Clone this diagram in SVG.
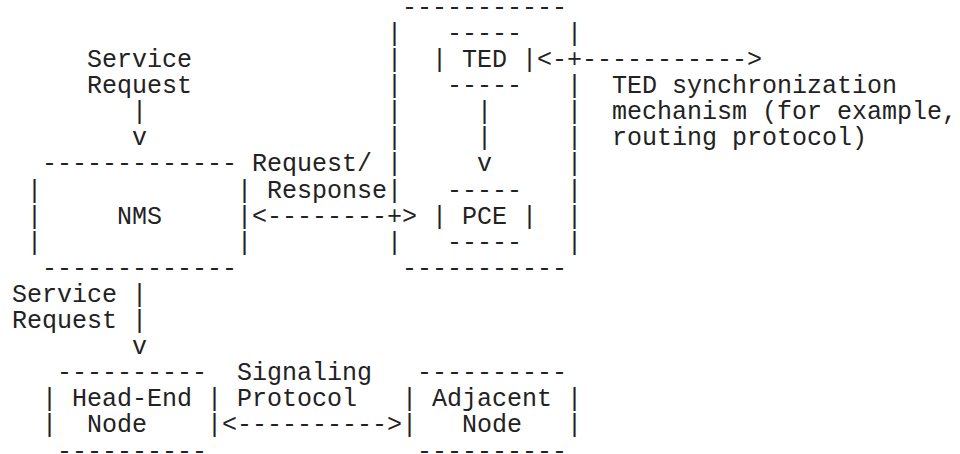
<svg xmlns="http://www.w3.org/2000/svg" width="960" height="454" viewBox="0 0 960 454">
<style>
  text { font-family: "Liberation Mono", "DejaVu Sans Mono", monospace; font-size: 25px; fill: #222; }
</style>
<rect width="960" height="454" fill="#fff"/>

<!-- PCE-side container box -->
<g id="pce-server">
  <text x="402" y="14.8">-----------</text>
  <text x="387" y="40.9">|</text><text x="567" y="40.9">|</text>
  <text x="387" y="67.0">|</text>
  <text x="387" y="93.1">|</text><text x="567" y="93.1">|</text>
  <text x="387" y="119.2">|</text><text x="567" y="119.2">|</text>
  <text x="387" y="145.3">|</text><text x="567" y="145.3">|</text>
  <text x="387" y="171.4">|</text><text x="567" y="171.4">|</text>
  <text x="387" y="197.5">|</text><text x="567" y="197.5">|</text>
  <text x="567" y="223.6">|</text>
  <text x="387" y="249.7">|</text><text x="567" y="249.7">|</text>
  <text x="402" y="275.8">-----------</text>
</g>

<g id="ted">
  <text x="447" y="40.9">-----</text>
  <text x="432" y="67.0">|</text><text x="462" y="67.0">TED</text><text x="522" y="67.0">|</text>
  <text x="447" y="93.1">-----</text>
</g>

<g id="pce">
  <text x="447" y="197.5">-----</text>
  <text x="432" y="223.6">|</text><text x="462" y="223.6">PCE</text><text x="522" y="223.6">|</text>
  <text x="447" y="249.7">-----</text>
</g>

<g id="nms">
  <text x="42" y="171.4">-------------</text>
  <text x="27" y="197.5">|</text><text x="237" y="197.5">|</text>
  <text x="27" y="223.6">|</text><text x="117" y="223.6">NMS</text><text x="237" y="223.6">|</text>
  <text x="27" y="249.7">|</text><text x="237" y="249.7">|</text>
  <text x="42" y="275.8">-------------</text>
</g>

<g id="head-end-node">
  <text x="57" y="380.2">----------</text>
  <text x="42" y="406.3">|</text><text x="72" y="406.3">Head-End</text><text x="207" y="406.3">|</text>
  <text x="42" y="432.4">|</text><text x="87" y="432.4">Node</text><text x="207" y="432.4">|</text>
  <text x="57" y="458.5">----------</text>
</g>

<g id="adjacent-node">
  <text x="417" y="380.2">----------</text>
  <text x="402" y="406.3">|</text><text x="432" y="406.3">Adjacent</text><text x="567" y="406.3">|</text>
  <text x="402" y="432.4">|</text><text x="462" y="432.4">Node</text><text x="567" y="432.4">|</text>
  <text x="417" y="458.5">----------</text>
</g>

<g id="connectors">
  <!-- Service request into NMS -->
  <g id="service-request-nms">
    <text x="87" y="67.0">Service</text>
    <text x="87" y="93.1">Request</text>
    <text x="132" y="119.2">|</text>
    <text x="132" y="145.3">v</text>
  </g>
  <!-- TED sync -->
  <g id="ted-sync">
    <text x="537" y="67.0">&lt;-+-----------&gt;</text>
    <text x="612" y="93.1">TED synchronization</text>
    <text x="612" y="119.2">mechanism (for example,</text>
    <text x="612" y="145.3">routing protocol)</text>
  </g>
  <!-- TED to PCE -->
  <g id="ted-to-pce">
    <text x="477" y="119.2">|</text>
    <text x="477" y="145.3">|</text>
    <text x="477" y="171.4">v</text>
  </g>
  <!-- NMS <-> PCE -->
  <g id="nms-pce">
    <text x="252" y="171.4">Request/</text>
    <text x="267" y="197.5">Response</text>
    <text x="252" y="223.6">&lt;--------+&gt;</text>
  </g>
  <!-- Service request into Head-End -->
  <g id="service-request-headend">
    <text x="12" y="301.9">Service</text><text x="132" y="301.9">|</text>
    <text x="12" y="328.0">Request</text><text x="132" y="328.0">|</text>
    <text x="132" y="354.1">v</text>
  </g>
  <!-- Signaling protocol -->
  <g id="signaling">
    <text x="237" y="380.2">Signaling</text>
    <text x="237" y="406.3">Protocol</text>
    <text x="222" y="432.4">&lt;----------&gt;</text>
  </g>
</g>
</svg>
